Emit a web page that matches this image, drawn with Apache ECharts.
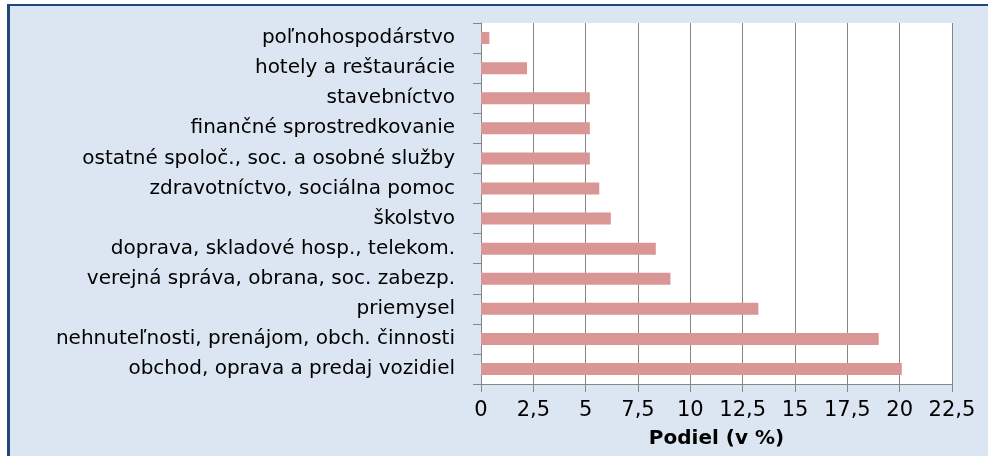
<!DOCTYPE html>
<html>
<head>
<meta charset="utf-8">
<script src="https://cdn.jsdelivr.net/npm/echarts@6/dist/echarts.min.js"></script>
<style>
  html, body { margin: 0; padding: 0; background: #ffffff; }
  #frame {
    position: absolute; left: 7px; top: 4px; width: 978px; height: 450px;
    background: #dce6f2; border-left: 3px solid #1f497d; border-top: 2px solid #1f497d;
  }
  #main { position: absolute; left: 0; top: 0; width: 988px; height: 456px; }
</style>
</head>
<body>
<div id="frame"></div>
<div id="main"></div>
<script>
  // odvetvia (zhora nadol)
  const categories = [
    'poľnohospodárstvo',
    'hotely a reštaurácie',
    'stavebníctvo',
    'finančné sprostredkovanie',
    'ostatné spoloč., soc. a osobné služby',
    'zdravotníctvo, sociálna pomoc',
    'školstvo',
    'doprava, skladové hosp., telekom.',
    'verejná správa, obrana, soc. zabezp.',
    'priemysel',
    'nehnuteľnosti, prenájom, obch. činnosti',
    'obchod, oprava a predaj vozidiel'
  ]
  const values = [0.4, 2.2, 5.2, 5.2, 5.2, 5.65, 6.2, 8.35, 9.05, 13.25, 19.0, 20.1]
  const axisName = 'Podiel (v %)'

  const chart = echarts.init(document.getElementById('main'))
  const gray = '#868686'
  const option = {
    backgroundColor: 'transparent',
    animation: false,
    textStyle: { fontFamily: 'DejaVu Sans, sans-serif' },
    grid: {
      left: 481, right: 36, top: 23, bottom: 72, containLabel: false,
      outerBoundsMode: 'none',
      show: true, backgroundColor: '#ffffff', borderWidth: 0
    },
    xAxis: {
      type: 'value',
      min: 0,
      max: 22.5,
      interval: 2.5,
      name: axisName,
      nameLocation: 'middle',
      nameGap: 45,
      nameTextStyle: { fontSize: 20, fontWeight: 'bold', color: '#000' },
      axisLine: { show: true, lineStyle: { color: gray, width: 1 } },
      axisTick: { show: true, length: 8, lineStyle: { color: gray } },
      axisLabel: {
        fontSize: 21, color: '#000', margin: 16,
        formatter: function (v) { return String(v).replace('.', ',') }
      },
      splitLine: { show: true, lineStyle: { color: gray, width: 1 } }
    },
    yAxis: {
      type: 'category',
      inverse: true,
      data: categories,
      axisLine: { show: true, lineStyle: { color: gray, width: 1 } },
      axisTick: { show: true, length: 8, lineStyle: { color: gray } },
      axisLabel: { fontSize: 20, color: '#000', margin: 26 }
    },
    series: [
      {
        type: 'bar',
        data: values,
        barWidth: 12,
        itemStyle: { color: '#d99694' }
      }
    ]
  }
  chart.setOption(option)
</script>
</body>
</html>
